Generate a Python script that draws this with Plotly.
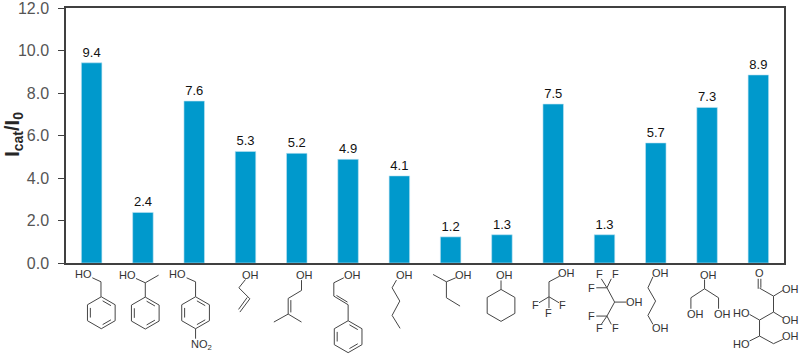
import math
import plotly.graph_objects as go

categories = ["benzyl alcohol", "1-phenylethanol", "4-nitrobenzyl alcohol", "allyl alcohol", "prenol",
              "cinnamyl alcohol", "1-butanol", "2-butanol", "cyclohexanol", "trifluoroethanol",
              "hexafluoroisopropanol", "1,3-propanediol", "glycerol", "glucose"]
bar_values = [9.42, 2.38, 7.62, 5.25, 5.16, 4.88, 4.1, 1.23, 1.33, 7.48, 1.33, 5.65, 7.32, 8.85]
bar_labels = ["9.4", "2.4", "7.6", "5.3", "5.2", "4.9", "4.1", "1.2", "1.3", "7.5", "1.3", "5.7", "7.3", "8.9"]
y_ticks = [0, 2, 4, 6, 8, 10, 12]
y_tick_labels = ["0.0", "2.0", "4.0", "6.0", "8.0", "10.0", "12.0"]

W, H = 800, 355
L, R, T, B = 66, 784.5, 8, 263.5

# Decorative chemical structures, in zoomed-crop pixels (crop origin, 3x scale)
GROUPS = [
    ((0, 220), [
        [(277,175),(303,187),(303,232)],
        [(408,177),(436,190),(476,167)], [(436,190),(436,233)],
        [(560,175),(587,187),(587,232)], [(587,328),(587,358)],
        [(737,180),(717,205),(750,238),(720,278)], [(742,234),(716,270)],
    ], [(304,280,90),(436,281,90),(587,280,90)], [],
     [("HO",251,165),("HO",383,167),("HO",534,165),("NO<sub>2</sub>",606,378),("OH",752,166)]),
    ((270, 220), [
        [(95,182),(95,213),(55,237),(55,284),(12,308)], [(55,284),(95,308)], [(63,242),(63,279)],
        [(222,175),(192,190),(192,230),(235,256),(235,304)], [(200,228),(233,248)],
        [(380,182),(367,205),(390,245),(367,288),(391,327)],
        [(558,175),(530,187),(490,165)], [(530,187),(530,235),(571,260)],
        [(694,183),(694,210)],
    ], [(235,352,90)], [(694,258)],
     [("OH",105,167),("OH",247,167),("OH",403,167),("OH",582,166),("OH",705,167)]),
    ((530, 220), [
        [(90,170),(58,187),(58,232)], [(58,232),(28,250)], [(58,232),(88,250)], [(58,232),(58,266)],
        [(255,248),(290,248)], [(232,205),(255,248),(232,290)],
        [(232,205),(215,178)], [(232,205),(245,178)], [(232,205),(200,205)],
        [(232,290),(200,290)], [(232,290),(215,315)], [(232,290),(245,315)],
        [(370,172),(355,205),(378,245),(355,288),(370,315)],
        [(525,180),(525,208)], [(525,208),(484,235),(484,268)], [(525,208),(567,235),(567,268)],
        [(686,178),(686,208)], [(694,178),(694,205)],
        [(690,206),(732,230),(760,213)], [(732,230),(732,278),(760,295)],
        [(732,278),(690,302),(660,285)], [(690,302),(690,350),(660,365)],
        [(690,350),(732,373),(760,360)],
    ], [], [],
     [("OH",112,162),("F",17,256),("F",99,256),("F",58,280),
      ("OH",315,248),("F",210,165),("F",257,165),("F",185,205),("F",185,290),("F",210,327),("F",257,327),
      ("OH",392,162),("OH",392,327),
      ("OH",537,167),("OH",497,285),("OH",578,285),
      ("O",690,162),("OH",782,208),("OH",782,302),("HO",635,280),("HO",635,373),("OH",782,350)]),
]

INK = "#454545"
shapes, texts = [], []

def to_paper(p, o):
    return ((o[0] + p[0] / 3 - L) / (R - L), (B - (o[1] + p[1] / 3)) / (B - T))

def line(pts, o):
    d = []
    for i, p in enumerate(pts):
        x, y = to_paper(p, o)
        d.append(("M" if i == 0 else "L") + f"{x:.5f},{y:.5f}")
    shapes.append(dict(type="path", path=" ".join(d), xref="paper", yref="paper",
                       line=dict(color=INK, width=1), layer="above"))

def hexagon(cx, cy, o, inner):
    r = 48
    v = [(cx + r * math.sin(math.radians(60 * i)), cy - r * math.cos(math.radians(60 * i))) for i in range(6)]
    line(v + [v[0]], o)
    if inner:
        ri = 38
        w = [(cx + ri * math.sin(math.radians(60 * i)), cy - ri * math.cos(math.radians(60 * i))) for i in range(6)]
        for i in (0, 2, 4):
            a, b = w[i], w[i + 1]
            line([(a[0] + (b[0] - a[0]) * .12, a[1] + (b[1] - a[1]) * .12),
                  (a[0] + (b[0] - a[0]) * .88, a[1] + (b[1] - a[1]) * .88)], o)

for o, lines, rings, plains, labels in GROUPS:
    for pts in lines:
        line(pts, o)
    for cx, cy, _ in rings:
        hexagon(cx, cy, o, True)
    for cx, cy in plains:
        hexagon(cx, cy, o, False)
    for s, x, y in labels:
        px, py = to_paper((x, y), o)
        texts.append(dict(text=s, x=px, y=py, xref="paper", yref="paper", showarrow=False,
                          xanchor="center", yanchor="middle",
                          font=dict(family="Liberation Sans", size=11, color="#333333")))

fig = go.Figure(go.Bar(
    x=categories, y=bar_values, text=bar_labels, textposition="outside", cliponaxis=False,
    textfont=dict(family="Liberation Sans", size=13, color="#111111"),
    marker=dict(color="#0099CC", line=dict(color="#BFE3F1", width=0.6)),
    hoverinfo="skip"))

texts.append(dict(text="<b>I<sub>cat</sub>/I<sub>0</sub></b>",
                  x=(14 - L) / (R - L), y=(B - 135) / (B - T), xref="paper", yref="paper",
                  xanchor="center", yanchor="middle", showarrow=False, textangle=-90,
                  font=dict(family="Liberation Sans", size=20, color="#262626")))

fig.update_layout(
    width=W, height=H, autosize=False, showlegend=False, bargap=0.6,
    margin=dict(l=L, r=W - R, t=T, b=H - B, pad=0, autoexpand=False),
    paper_bgcolor="white", plot_bgcolor="white",
    shapes=shapes, annotations=texts,
    xaxis=dict(automargin=False, showticklabels=False, ticks="", showline=True, mirror=True,
               linecolor="#404040", linewidth=1.5, showgrid=False, zeroline=False),
    yaxis=dict(automargin=False, range=[0, 12], tickvals=y_ticks, ticktext=y_tick_labels,
               ticks="outside", ticklen=6, tickcolor="#404040", tickwidth=1.2, showline=True,
               mirror=True, linecolor="#404040", linewidth=1.5, showgrid=False, zeroline=False,
               ticklabeloverflow="allow", ticklabelstandoff=6,
               tickfont=dict(family="Liberation Sans", size=16, color="#555555")),
)
fig.write_html("out.html", post_script="document.body.style.margin='0';",
               config={"displayModeBar": False})
